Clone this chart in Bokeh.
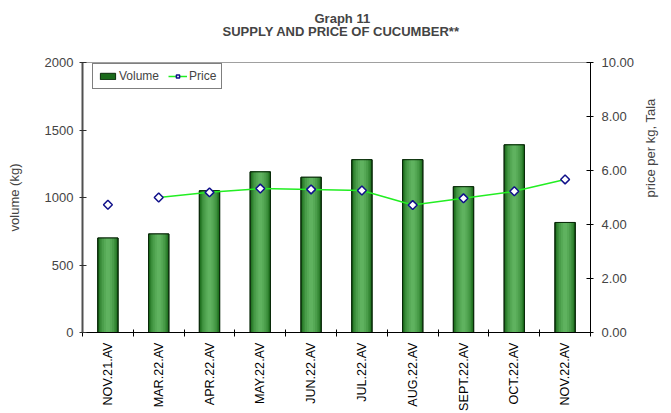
import math
from bokeh.plotting import figure
from bokeh.models import (Range1d, LinearAxis, FixedTicker, CustomJSTickFormatter,
                          NumeralTickFormatter, Title, Legend, LegendItem,
                          ColumnDataSource)
from bokeh.embed import file_html
from bokeh.resources import INLINE

categories = ["NOV.21.AV", "MAR.22.AV", "APR.22.AV", "MAY.22.AV", "JUN.22.AV",
              "JUL.22.AV", "AUG.22.AV", "SEPT.22.AV", "OCT.22.AV", "NOV.22.AV"]
volume = [700, 730, 1050, 1190, 1150, 1280, 1280, 1080, 1390, 815]
price = [4.73, 5.00, 5.19, 5.33, 5.30, 5.26, 4.72, 4.97, 5.23, 5.67]
volume_ticks = [0, 500, 1000, 1500, 2000]
price_ticks = [0, 2, 4, 6, 8, 10]
title_main = "Graph 11"
title_sub = "SUPPLY AND PRICE OF CUCUMBER**"

FONT = "Liberation Sans"
n = len(categories)
xs = [i + 0.5 for i in range(n)]
src = ColumnDataSource(dict(x=xs, volume=volume, price=price))
line_src = ColumnDataSource(dict(x=xs[1:], price=price[1:]))

p = figure(width=671, height=413, output_backend="svg", toolbar_location=None,
           x_range=Range1d(0, n), y_range=Range1d(0, 2000),
           min_border_left=82, min_border_right=81, min_border_top=62, min_border_bottom=81,
           background_fill_color="white", border_fill_color="white")
p.extra_y_ranges = {"price": Range1d(0, 10)}
p.xgrid.visible = False
p.ygrid.visible = False
p.outline_line_color = "#a0a0a0"

# bars with stepped gradient
layers = [(0.40, "#1b6b1b"), (0.35, "#2c7e2c"), (0.30, "#3c8f3c"),
          (0.24, "#4a9d4a"), (0.16, "#56a956"), (0.08, "#5fb25f")]
bar_r = None
for i, (w, c) in enumerate(layers):
    r = p.vbar(x="x", top="volume", bottom=0, width=w, source=src, fill_color=c,
               line_color="#0a2a0a" if i == 0 else None, line_width=1)
    if i == 0:
        bar_r = r
p.vbar(x="x", top="volume", bottom=0, width=0.40, source=src, fill_color=None,
       line_color="#0a2a0a", line_width=1)

line_r = p.line(x="x", y="price", source=line_src, y_range_name="price",
                line_color="#22ee22", line_width=1.5)
mark_r = p.scatter(x="x", y="price", source=src, y_range_name="price", marker="square",
                   angle=math.pi / 4, size=6.3, fill_color="white",
                   line_color="#10108a", line_width=1.5)

# x axis: labels at bar centres, ticks at category boundaries
p.xaxis.ticker = FixedTicker(ticks=xs, minor_ticks=list(range(n + 1)))
p.xaxis.formatter = CustomJSTickFormatter(args=dict(labels=categories),
                                          code="return labels[Math.floor(tick)];")
p.xaxis.major_label_orientation = math.pi / 2
p.xaxis.major_tick_line_color = None
p.xaxis.major_tick_out = 0
p.xaxis.major_tick_in = 0
p.xaxis.minor_tick_line_color = "black"
p.xaxis.minor_tick_in = 3
p.xaxis.minor_tick_out = 4
p.xaxis.major_label_standoff = 6
p.xaxis.major_label_text_font = FONT
p.xaxis.major_label_text_font_size = "12.6px"
p.xaxis.major_label_text_color = "black"
p.xaxis.axis_line_color = "black"

p.yaxis.ticker = FixedTicker(ticks=volume_ticks)
p.yaxis.axis_label = "volume (kg)"
p.yaxis.axis_label_text_font = FONT
p.yaxis.axis_label_text_font_size = "13px"
p.yaxis.axis_label_text_font_style = "normal"
p.yaxis.axis_label_standoff = 20
p.yaxis.major_label_text_font = FONT
p.yaxis.major_label_text_font_size = "13px"
p.yaxis.major_label_standoff = 6
p.yaxis.major_tick_in = 4
p.yaxis.major_tick_out = 3
p.yaxis.minor_tick_line_color = None
p.yaxis.axis_line_color = "#505050"
p.yaxis.axis_line_width = 2
p.yaxis.major_tick_line_color = "#303030"

ra = LinearAxis(y_range_name="price", ticker=FixedTicker(ticks=price_ticks),
                formatter=NumeralTickFormatter(format="0.00"),
                axis_label="price per kg, Tala")
ra.axis_label_text_font = FONT
ra.axis_label_text_font_size = "13px"
ra.axis_label_text_font_style = "normal"
ra.axis_label_standoff = 13
ra.axis_label_orientation = math.pi / 2
ra.major_label_text_font = FONT
ra.major_label_text_font_size = "13px"
ra.major_label_standoff = 8
ra.major_tick_in = 4
ra.major_tick_out = 3
ra.minor_tick_line_color = None
ra.axis_line_color = "black"
p.add_layout(ra, "right")

# titles: spacer nearest the frame, then subtitle, then main title
p.add_layout(Title(text=" ", text_font=FONT, text_font_size="13px", standoff=7), "above")
p.add_layout(Title(text=title_sub, align="left", offset=140, standoff=0,
                   text_font=FONT, text_font_size="13px", text_font_style="bold"), "above")
main_t = Title(text=title_main, align="left", offset=232, standoff=0,
               text_font=FONT, text_font_size="13px", text_font_style="bold")
try:
    main_t.standoff = -9
except Exception:
    main_t.standoff = 0
p.add_layout(main_t, "above")

legend = Legend(items=[LegendItem(label="Volume", renderers=[bar_r]),
                       LegendItem(label="Price", renderers=[line_r, mark_r])],
                orientation="horizontal", location=(10, 243),
                label_text_font=FONT, label_text_font_size="12px",
                glyph_width=19, glyph_height=8, label_standoff=2, spacing=9,
                padding=5, margin=0, border_line_color="black", border_line_width=1,
                background_fill_alpha=1.0, label_height=14)
p.add_layout(legend, "center")

open("out.html", "w").write(file_html(p, INLINE))
